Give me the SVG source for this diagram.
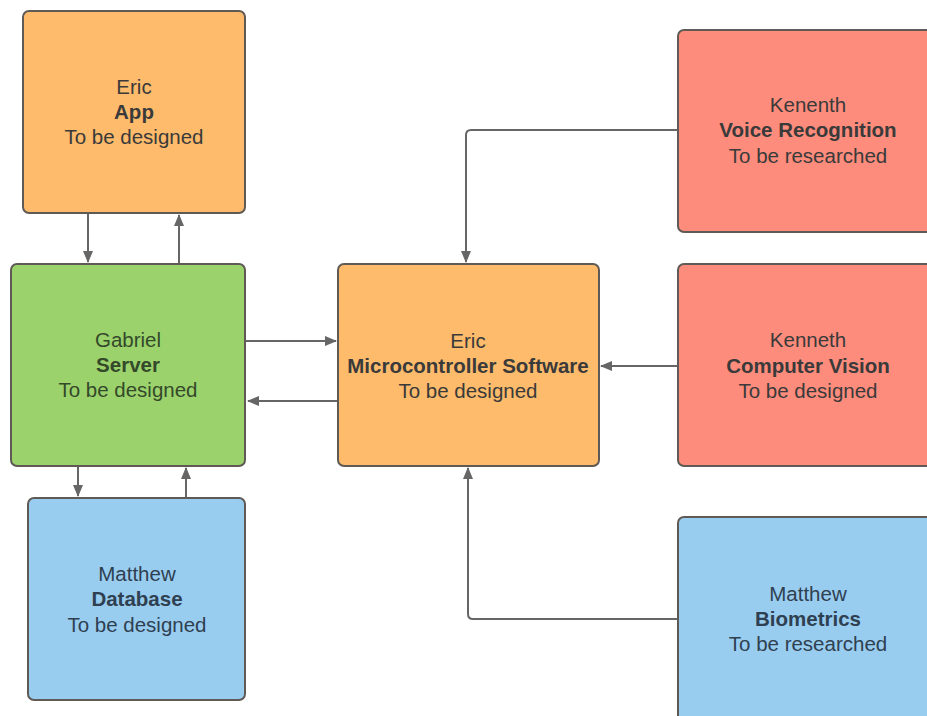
<svg xmlns="http://www.w3.org/2000/svg" width="927" height="716" viewBox="0 0 927 716">
<defs>
<style>
.box{stroke:#5f5a55;stroke-width:2}
.org{fill:#fdbb6b}
.grn{fill:#9bd26c}
.blu{fill:#99cdf0}
.red{fill:#fe8c7c}
text{font-family:"Liberation Sans",Arial,sans-serif;font-size:20.5px;text-anchor:middle;fill:#3a3a3a}
.b{font-weight:bold}
.c{fill:none;stroke:#666;stroke-width:2}
</style>
<marker id="ah" viewBox="0 0 12 10" refX="11" refY="5" markerWidth="12" markerHeight="10" markerUnits="userSpaceOnUse" orient="auto">
<path d="M0,0 L12,5 L0,10 z" fill="#666"/>
</marker>
</defs>
<rect width="927" height="716" fill="#fff"/>
<g id="connectors">
<path class="c" d="M88,214 V262" marker-end="url(#ah)"/>
<path class="c" d="M179,264 V215" marker-end="url(#ah)"/>
<path class="c" d="M78,467 V496" marker-end="url(#ah)"/>
<path class="c" d="M186,498 V468" marker-end="url(#ah)"/>
<path class="c" d="M246,341 H336" marker-end="url(#ah)"/>
<path class="c" d="M338,401 H248" marker-end="url(#ah)"/>
<path class="c" d="M678,130 H471 Q466,130 466,135 V262" marker-end="url(#ah)"/>
<path class="c" d="M678,366 H601" marker-end="url(#ah)"/>
<path class="c" d="M678,619 H473 Q468,619 468,614 V468" marker-end="url(#ah)"/>
</g>
<g id="app">
<rect class="box org" x="23" y="11" width="222" height="202" rx="6"/>
<text x="134" y="94">Eric</text>
<text x="134" y="119" class="b">App</text>
<text x="134" y="144">To be designed</text>
</g>
<g id="server">
<rect class="box grn" x="11" y="264" width="234" height="202" rx="6"/>
<text x="128" y="347" style="fill:#34492a">Gabriel</text>
<text x="128" y="372" class="b" style="fill:#34492a">Server</text>
<text x="128" y="397" style="fill:#34492a">To be designed</text>
</g>
<g id="database">
<rect class="box blu" x="28" y="498" width="217" height="202" rx="6"/>
<text x="137" y="581" style="fill:#2f4050">Matthew</text>
<text x="137" y="606" class="b" style="fill:#2f4050">Database</text>
<text x="137" y="632" style="fill:#2f4050">To be designed</text>
</g>
<g id="mcu">
<rect class="box org" x="338" y="264" width="261" height="202" rx="6"/>
<text x="468" y="348">Eric</text>
<text x="468" y="373" class="b">Microcontroller Software</text>
<text x="468" y="398">To be designed</text>
</g>
<g id="voice">
<rect class="box red" x="678" y="30" width="262" height="202" rx="6"/>
<text x="808" y="112">Kenenth</text>
<text x="808" y="137" class="b">Voice Recognition</text>
<text x="808" y="163">To be researched</text>
</g>
<g id="cv">
<rect class="box red" x="678" y="264" width="262" height="202" rx="6"/>
<text x="808" y="347">Kenneth</text>
<text x="808" y="373" class="b">Computer Vision</text>
<text x="808" y="398">To be designed</text>
</g>
<g id="biometrics">
<rect class="box blu" x="678" y="517" width="262" height="220" rx="6"/>
<text x="808" y="601" style="fill:#2f4050">Matthew</text>
<text x="808" y="626" class="b" style="fill:#2f4050">Biometrics</text>
<text x="808" y="651" style="fill:#2f4050">To be researched</text>
</g>
</svg>
